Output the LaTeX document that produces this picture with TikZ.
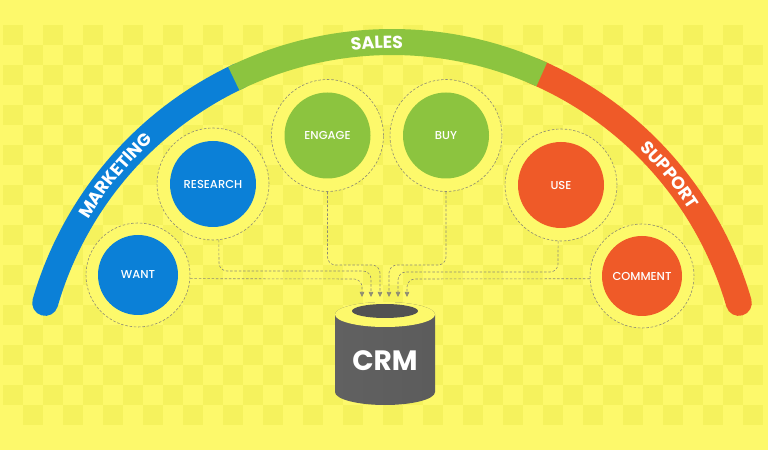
\documentclass[tikz,border=0pt]{standalone}
\usepackage{fontspec}
\setmainfont{Poppins}
\newfontfamily\medfont{Poppins Medium}
\usetikzlibrary{arrows.meta,decorations.text}
\definecolor{bgY}{HTML}{FDF96B}
\definecolor{chk}{HTML}{F5F25D}
\definecolor{mblue}{HTML}{0B80D7}
\definecolor{mgreen}{HTML}{8CC43F}
\definecolor{morange}{HTML}{EF5A28}
\definecolor{dashC}{HTML}{8E8C74}
\newcommand\arcfont{\bfseries\fontsize{17.5}{19}\selectfont\color{white}}
\newcommand\lblfont{\medfont\fontsize{11.5}{13}\selectfont}
\newcommand\crmfont{\bfseries\fontsize{28}{30}\selectfont}
\begin{document}
\begin{tikzpicture}[x=1pt,y=1pt,
  band/.style={line width=26pt},
  ring/.style={circle, draw=dashC, dash pattern=on 2.5pt off 1.8pt, line width=0.6pt, fill=bgY, inner sep=0pt, minimum size=#1},
  disc/.style={circle, fill=#1, text=white, inner sep=0pt, font=\lblfont},
  conn/.style={draw=dashC, line width=0.6pt, dash pattern=on 2.5pt off 1.8pt, rounded corners=8pt, -{Triangle[width=4.5pt,length=5pt]}},
  arclabel/.style={decorate, decoration={text along path, text align=center, raise=-6.2pt, text={|\arcfont|#1}}}
]
\useasboundingbox (0,0) rectangle (768,450);
\fill[bgY] (0,0) rectangle (768,450);
\foreach \j in {0,...,19}{
  \foreach \i in {0,2,...,36}{
    \fill[chk] ({3+20*(\i+mod(\j,2))},{425-20*\j}) rectangle ++(20,-20);
  }
}
% arc bands
\draw[band, mblue, line cap=round] ([shift={(163.9:361)}]392,47) arc[start angle=163.9, end angle=115, radius=361];
\draw[band, morange, line cap=round] ([shift={(67:361)}]392,47) arc[start angle=67, end angle=16.1, radius=361];
\draw[band, mgreen, line cap=butt] ([shift={(116:361)}]392,47) arc[start angle=116, end angle=65.5, radius=361];
% arc labels
\path[arclabel=MARKETING] ([shift={(160.6:361)}]392,47) arc[start angle=160.6, end angle=120.6, radius=361];
\path[arclabel=SALES] ([shift={(112.4:361)}]392,47) arc[start angle=112.4, end angle=72.4, radius=361];
\path[arclabel=SUPPORT] ([shift={(59.4:361)}]392,47) arc[start angle=59.4, end angle=19.4, radius=361];
% rings and discs
\node[ring=104] (wantR) at (138,450-275) {};
\node[disc=mblue, minimum size=80] (want) at (wantR) {WANT};
\node[ring=112] (researchR) at (213,450-184) {};
\node[disc=mblue, minimum size=86] (research) at (researchR) {RESEARCH};
\node[ring=112] (engageR) at (327.5,450-135.5) {};
\node[disc=mgreen, minimum size=86] (engage) at (engageR) {ENGAGE};
\node[ring=112] (buyR) at (446,450-135.5) {};
\node[disc=mgreen, minimum size=86] (buy) at (buyR) {BUY};
\node[ring=112] (useR) at (561,450-185) {};
\node[disc=morange, minimum size=86] (use) at (useR) {USE};
\node[ring=104] (commentR) at (642,450-276) {};
\node[disc=morange, minimum size=80] (comment) at (commentR) {COMMENT};
% arrow targets
\coordinate (a1) at (362,450-297);
\coordinate (a2) at (371,450-297);
\coordinate (a3) at (380,450-297);
\coordinate (a4) at (389,450-297);
\coordinate (a5) at (398,450-297);
\coordinate (a6) at (407,450-297);
% connectors
\draw[conn] (wantR.-4.4) -- (362,450-279) -- (a1);
\draw[conn] (researchR.-84) -- (219,450-271) -- (371,450-271) -- (a2);
\draw[conn] (engageR.south) -- (327.5,450-265) -- (380,450-265) -- (a3);
\draw[conn] (buyR.south) -- (446,450-265) -- (389,450-265) -- (a4);
\draw[conn] (useR.-93) -- (558,450-272) -- (398,450-272) -- (a5);
\draw[conn] (commentR.183.3) -- (407,450-279) -- (a6);
% cylinder
\shade[left color=black!62, middle color=black!44, right color=black!64]
  (335,450-314.5) -- (335,450-392) arc[start angle=180, end angle=360, x radius=50, y radius=13]
  -- (435,450-314.5) arc[start angle=0, end angle=180, x radius=50, y radius=12.5] -- cycle;
\fill[bgY] (385,450-314.5) ellipse[x radius=50, y radius=12.5];
\shade[left color=black!68, middle color=black!50, right color=black!68] (385,450-311) ellipse[x radius=33, y radius=7];
\node[font=\crmfont, text=white] (crm) at (385,450-361) {CRM};
\end{tikzpicture}
\end{document}
